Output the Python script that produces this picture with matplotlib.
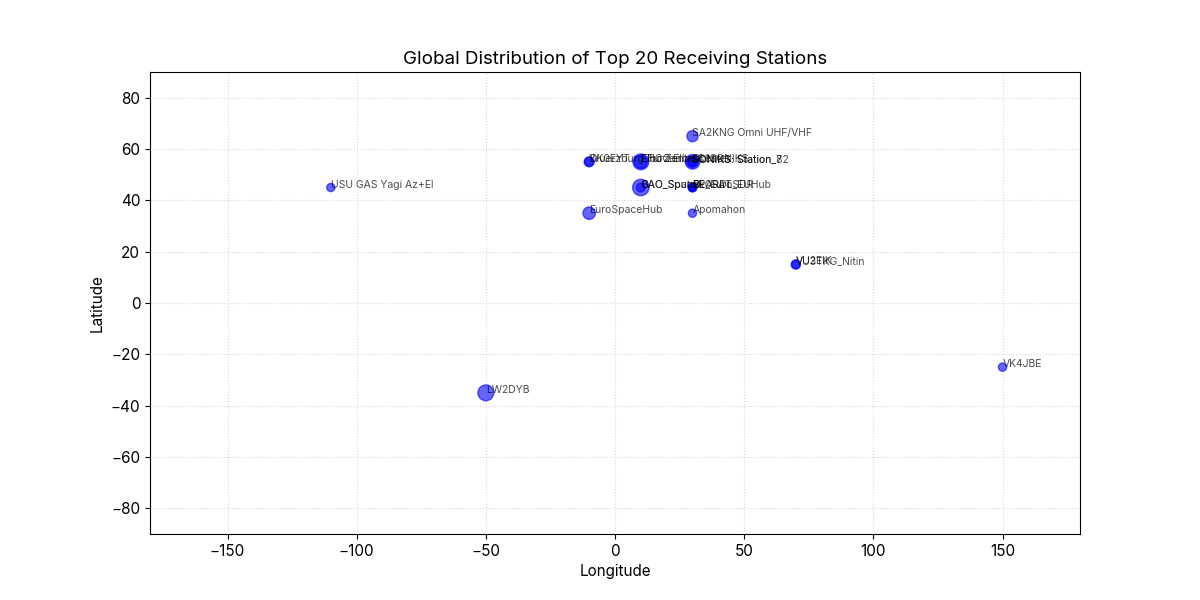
from matplotlib import pyplot as plt

plt.rcParams["font.family"] = ["Inter", "DejaVu Sans"]

# top 20 receiving stations: name, longitude, latitude, marker size (by packet count)
stations = [
    "SA2KNG Omni UHF/VHF", "DK0EYT", "Wuerzburg Turzen", "EHCO Elbe Center",
    "Elbo Zentrum", "SONIKS: Station_7", "SONIKS: Station_82", "DL1SONIKS",
    "BAO_Sputnik", "GAO_Space", "PE0SAT", "SPARDL_EUHub", "DL_EuroSDR",
    "EuroSpaceHub", "Apomahon", "USU GAS Yagi Az+El", "VU3TKG_Nitin",
    "VU2EIK", "VK4JBE", "LW2DYB",
]
lons = [30, -10, -10, 10, 10, 30, 30, 30, 10, 10, 30, 30, 30,
        -10, 30, -110, 70, 70, 150, -50]
lats = [65, 55, 55, 55, 55, 55, 55, 55, 45, 45, 45, 45, 45,
        35, 35, 45, 15, 15, -25, -35]
sizes = [65, 50, 45, 130, 90, 110, 70, 40, 140, 40, 40, 35, 35,
         80, 35, 35, 45, 35, 35, 130]

fig, ax = plt.subplots(figsize=(12, 6), facecolor="white")

ax.scatter(lons, lats, s=sizes, color="blue", alpha=0.6, zorder=3)

for name, lon, lat in zip(stations, lons, lats):
    ax.text(lon, lat, name, fontsize=7.5, color="black", alpha=0.7, zorder=4)

ax.set_xlim(-180, 180)
ax.set_ylim(-90, 90)
ax.set_title("Global Distribution of Top 20 Receiving Stations", fontsize=13.5)
ax.set_xlabel("Longitude", fontsize=11)
ax.set_ylabel("Latitude", fontsize=11)
ax.tick_params(labelsize=11)
ax.grid(True, linestyle=":", alpha=0.5)

plt.savefig("out.png", dpi=100)
